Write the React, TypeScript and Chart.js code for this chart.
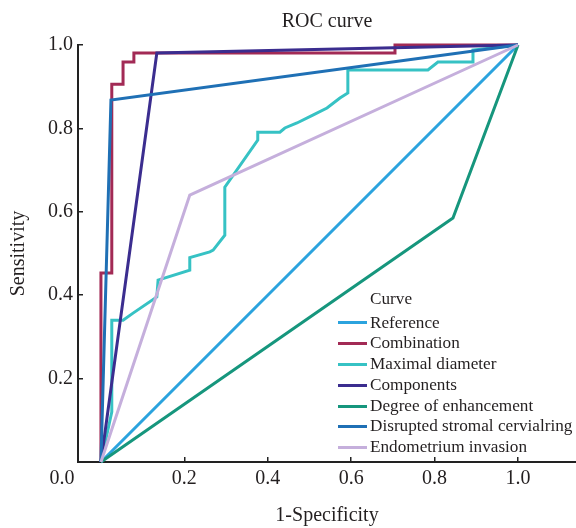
import React, { useEffect, useRef } from 'react';
import { Chart, registerables } from 'chart.js';

Chart.register(...registerables);

const FONT = '"Liberation Serif", "Times New Roman", serif';
const TEXT_COLOR = '#231f20';

const chartTitle = 'ROC curve';
const xAxisTitle = '1-Specificity';
const yAxisTitle = 'Sensitivity';
const legendTitle = 'Curve';
const originLabel = '0.0';

const seriesNames = [
  'Reference',
  'Combination',
  'Maximal diameter',
  'Components',
  'Degree of enhancement',
  'Disrupted stromal cervialring',
  'Endometrium invasion',
];
const seriesColors = ['#2ba3de', '#a22a55', '#36c2c4', '#3b2d8f', '#16967d', '#1f70b5', '#c5afdc'];

const referenceX = [0, 1];
const referenceY = [0, 1];

const combinationX = [0, 0, 0.026, 0.026, 0.053, 0.053, 0.079, 0.079, 0.705, 0.705, 1];
const combinationY = [0, 0.453, 0.453, 0.906, 0.906, 0.959, 0.959, 0.981, 0.981, 1, 1];

const maximalDiameterX = [0, 0.026, 0.026, 0.053, 0.077, 0.134, 0.137, 0.213, 0.213, 0.261, 0.269, 0.297, 0.297, 0.376, 0.376, 0.429, 0.441, 0.47, 0.508, 0.542, 0.573, 0.592, 0.592, 0.784, 0.808, 0.892, 0.892, 1];
const maximalDiameterY = [0, 0.12, 0.34, 0.34, 0.357, 0.396, 0.436, 0.46, 0.49, 0.504, 0.508, 0.544, 0.659, 0.772, 0.791, 0.791, 0.801, 0.813, 0.832, 0.849, 0.873, 0.885, 0.94, 0.94, 0.959, 0.959, 0.988, 1];

const componentsX = [0, 0.134, 1];
const componentsY = [0, 0.981, 1];

const enhancementX = [0, 0.844, 1];
const enhancementY = [0, 0.585, 1];

const stromalX = [0, 0.024, 1];
const stromalY = [0, 0.868, 1];

const endometriumX = [0, 0.213, 1];
const endometriumY = [0, 0.64, 1];

const seriesX = [referenceX, combinationX, maximalDiameterX, componentsX, enhancementX, stromalX, endometriumX];
const seriesY = [referenceY, combinationY, maximalDiameterY, componentsY, enhancementY, stromalY, endometriumY];

const xTickValues = [0, 0.2, 0.4, 0.6, 0.8, 1.0];
const yTickValues = [0.2, 0.4, 0.6, 0.8, 1.0];

const originLabelPlugin = {
  id: 'originLabel',
  afterDraw(chart: any) {
    const xs = chart.scales.x;
    const ctx = chart.ctx;
    ctx.save();
    ctx.font = `20px ${FONT}`;
    ctx.fillStyle = TEXT_COLOR;
    ctx.textAlign = 'center';
    ctx.textBaseline = 'middle';
    ctx.fillText(originLabel, xs.getPixelForValue(0) - 39, xs.top + 17);
    ctx.restore();
  },
};

export default function App() {
  const canvasRef = useRef<HTMLCanvasElement | null>(null);

  useEffect(() => {
    if (!canvasRef.current) return;
    const n = seriesNames.length;
    const datasets = seriesNames.map((name, i) => ({
      label: name,
      data: seriesX[i].map((x, j) => ({ x, y: seriesY[i][j] })),
      borderColor: seriesColors[i],
      backgroundColor: seriesColors[i],
      borderWidth: 3,
      pointRadius: 0,
      tension: 0,
      fill: false,
      clip: false as any,
      order: n - i,
    }));

    const chart = new Chart(canvasRef.current, {
      type: 'line',
      data: { datasets },
      plugins: [originLabelPlugin],
      options: {
        animation: false,
        responsive: false,
        layout: { padding: 0 },
        plugins: {
          legend: { display: false },
          tooltip: { enabled: false },
          title: {
            display: true,
            text: chartTitle,
            fullSize: false,
            color: TEXT_COLOR,
            font: { family: FONT, size: 20, weight: 'normal' },
            padding: { top: 10, bottom: 11 },
          },
        },
        scales: {
          x: {
            type: 'linear',
            min: -0.055,
            max: 1.139,
            afterBuildTicks: (scale: any) => {
              scale.ticks = xTickValues.map((v) => ({ value: v }));
            },
            afterFit: (scale: any) => {
              scale.height = 66;
            },
            grid: { drawOnChartArea: false, drawTicks: true, tickLength: -5, color: '#222', lineWidth: 1.5 },
            border: { display: true, color: '#222', width: 2 },
            ticks: {
              autoSkip: false,
              maxRotation: 0,
              padding: 10,
              color: TEXT_COLOR,
              font: { family: FONT, size: 20 },
              callback: (v: any) => (Number(v) === 0 ? '' : Number(v).toFixed(1)),
            },
            title: {
              display: true,
              text: xAxisTitle,
              color: TEXT_COLOR,
              font: { family: FONT, size: 20 },
              padding: { top: 0, bottom: 0 },
            },
          },
          y: {
            type: 'linear',
            min: 0,
            max: 1,
            afterBuildTicks: (scale: any) => {
              scale.ticks = yTickValues.map((v) => ({ value: v }));
            },
            afterFit: (scale: any) => {
              scale.width = 78;
            },
            grid: { drawOnChartArea: false, drawTicks: true, tickLength: -5, color: '#222', lineWidth: 1.5 },
            border: { display: true, color: '#222', width: 2 },
            ticks: {
              autoSkip: false,
              padding: 10,
              color: TEXT_COLOR,
              font: { family: FONT, size: 20 },
              callback: (v: any) => Number(v).toFixed(1),
            },
            title: {
              display: true,
              text: yAxisTitle,
              color: TEXT_COLOR,
              font: { family: FONT, size: 20 },
              padding: { top: 7, bottom: 0 },
            },
          },
        },
      },
    });
    return () => chart.destroy();
  }, []);

  const rowH = 20.8;
  return (
    <div style={{ position: 'absolute', left: 0, top: 0, width: 576, height: 528, background: '#fff', overflow: 'hidden' }}>
      <canvas ref={canvasRef} width={576} height={528} style={{ display: 'block' }} />
      <div
        style={{
          position: 'absolute',
          left: 338,
          top: 289,
          fontFamily: FONT,
          fontSize: 17.2,
          color: TEXT_COLOR,
          lineHeight: `${rowH}px`,
        }}
      >
        <div style={{ paddingLeft: 32, height: 23.5 }}>{legendTitle}</div>
        {seriesNames.map((name, i) => (
          <div key={name} style={{ display: 'flex', alignItems: 'center', height: rowH, whiteSpace: 'nowrap' }}>
            <span style={{ display: 'inline-block', width: 29, height: 3, background: seriesColors[i], marginRight: 3 }} />
            <span>{name}</span>
          </div>
        ))}
      </div>
    </div>
  );
}
